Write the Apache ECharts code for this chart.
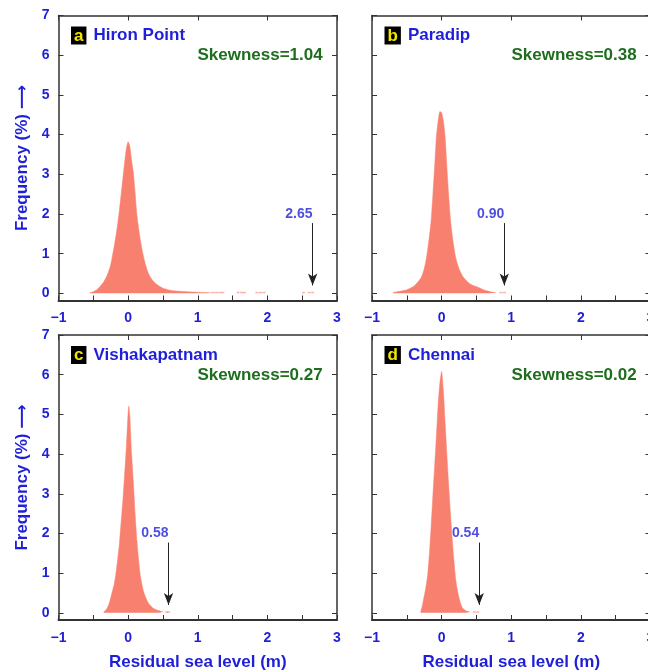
<!DOCTYPE html>
<html><head><meta charset="utf-8">
<script src="https://cdn.jsdelivr.net/npm/echarts@6/dist/echarts.min.js"></script>
<style>html,body{margin:0;padding:0;background:#fff}#c{width:648px;height:672px}</style>
</head><body><div id="c"></div><script>
// ---- data ----
const stationNames = ['Hiron Point', 'Paradip', 'Vishakapatnam', 'Chennai'];
const panelLetters = ['a', 'b', 'c', 'd'];
const skewness = ['1.04', '0.38', '0.27', '0.02'];
const maxResidual = [2.65, 0.90, 0.58, 0.54];
const xTickLabels = ['−1', '0', '1', '2', '3'];

const residualA = [-0.55,-0.5,-0.45,-0.4,-0.35,-0.3,-0.275,-0.25,-0.225,-0.2,-0.175,-0.15,-0.125,-0.1,-0.075,-0.05,-0.025,0,0.025,0.05,0.075,0.1,0.125,0.15,0.175,0.2,0.225,0.25,0.275,0.3,0.35,0.4,0.45,0.5,0.6,0.7,0.8,0.9,1.0,1.1,1.2];
const freqA     = [0.02,0.04,0.09,0.18,0.29,0.46,0.58,0.72,0.95,1.18,1.45,1.75,2.1,2.5,2.9,3.3,3.65,3.82,3.7,3.35,3.05,2.55,2.0,1.65,1.35,1.1,0.9,0.72,0.58,0.47,0.33,0.24,0.18,0.13,0.08,0.06,0.045,0.035,0.03,0.02,0.015];
const tailA     = [1.22,1.27,1.32,1.36,1.58,1.63,1.67,1.85,1.9,1.95,2.52,2.6,2.65];

const residualB = [-0.7,-0.6,-0.5,-0.45,-0.4,-0.35,-0.3,-0.275,-0.25,-0.225,-0.2,-0.175,-0.15,-0.125,-0.1,-0.075,-0.05,-0.025,0,0.025,0.05,0.075,0.1,0.125,0.15,0.175,0.2,0.225,0.25,0.275,0.3,0.35,0.4,0.45,0.5,0.6,0.7,0.78];
const freqB     = [0.02,0.05,0.09,0.13,0.18,0.27,0.38,0.48,0.62,0.82,1.1,1.45,1.85,2.5,3.2,3.95,4.35,4.58,4.55,4.35,3.95,3.2,2.5,1.9,1.5,1.18,0.92,0.75,0.62,0.52,0.44,0.33,0.25,0.2,0.17,0.09,0.04,0.02];
const tailB     = [0.85,0.9];

const residualC = [-0.35,-0.325,-0.3,-0.275,-0.25,-0.225,-0.2,-0.175,-0.15,-0.125,-0.1,-0.075,-0.05,-0.025,0,0.01,0.025,0.05,0.075,0.1,0.125,0.15,0.175,0.2,0.225,0.25,0.275,0.3,0.35,0.4,0.45,0.5];
const freqC     = [0.03,0.06,0.12,0.22,0.38,0.55,0.72,1.0,1.35,1.75,2.3,2.85,3.5,4.2,5.05,5.21,4.95,4.0,3.3,2.5,1.85,1.35,0.95,0.7,0.52,0.4,0.3,0.22,0.13,0.08,0.05,0.02];
const tailC     = [0.55,0.58];

const residualD = [-0.3,-0.275,-0.25,-0.225,-0.2,-0.175,-0.15,-0.125,-0.1,-0.075,-0.05,-0.025,0,0.025,0.05,0.075,0.1,0.125,0.15,0.175,0.2,0.225,0.25,0.275,0.3,0.35,0.41];
const freqD     = [0.03,0.2,0.42,0.65,0.96,1.5,2.2,2.97,3.7,4.45,5.25,5.8,6.08,5.6,4.8,4.0,3.25,2.55,1.92,1.35,0.88,0.58,0.38,0.22,0.12,0.05,0.02];
const tailD     = [0.47,0.52];

// ---- build ----
const residuals = [residualA, residualB, residualC, residualD];
const freqs = [freqA, freqB, freqC, freqD];
const tails = [tailA, tailB, tailC, tailD];

const BLUE = '#1f1fd8', GREEN = '#1e6e1e', FILL = '#f8806f', FRAME = '#333';
const FONT = '"Liberation Sans", Arial, Helvetica, "DejaVu Sans", sans-serif';

const gridPos = [
  {left: 58.5, top: 15.5}, {left: 372, top: 15.5},
  {left: 58.5, top: 335}, {left: 372, top: 335}
];
const grid = gridPos.map(p => ({left: p.left, top: p.top, width: 278.5, height: 285,
  containLabel: false, outerBoundsMode: 'none'}));

const xAxis = [], yAxis = [], series = [], title = [];
for (let i = 0; i < 4; i++) {
  const bottomRow = i >= 2, leftCol = i % 2 === 0;
  xAxis.push({
    gridIndex: i, type: 'value', min: -1, max: 3, interval: 1, position: 'bottom',
    axisLine: {show: true, onZero: false, lineStyle: {color: FRAME, width: 2}},
    axisTick: {show: true, inside: true, length: 5, lineStyle: {color: FRAME, width: 1}},
    minorTick: {show: true, splitNumber: 2, length: 5, lineStyle: {color: FRAME, width: 1}},
    splitLine: {show: false}, minorSplitLine: {show: false},
    axisLabel: {color: BLUE, fontWeight: 'bold', fontSize: 14, fontFamily: FONT, margin: 11,
      formatter: v => xTickLabels[Math.round(v) + 1]},
    name: bottomRow ? 'Residual sea level (m)' : '', nameLocation: 'middle', nameGap: 34,
    nameTextStyle: {color: BLUE, fontWeight: 'bold', fontSize: 17, fontFamily: FONT}
  });
  xAxis.push({
    gridIndex: i, type: 'value', min: -1, max: 3, interval: 1, position: 'top',
    axisLine: {show: true, onZero: false, lineStyle: {color: FRAME, width: 1.5}},
    axisTick: {show: true, inside: true, length: 5, lineStyle: {color: FRAME, width: 1}},
    axisLabel: {show: false}, splitLine: {show: false}
  });
  yAxis.push({
    gridIndex: i, type: 'value', min: -0.18, max: 7, splitNumber: 7, position: 'left',
    axisLine: {show: true, onZero: false, lineStyle: {color: FRAME, width: 1.5}},
    axisTick: {show: true, inside: true, length: 5, lineStyle: {color: FRAME, width: 1}},
    axisLabel: {show: leftCol, showMinLabel: false, color: BLUE, fontWeight: 'bold', fontSize: 14, fontFamily: FONT, margin: 9},
    splitLine: {show: false},
    name: leftCol ? 'Frequency (%) ⟶' : '', nameLocation: 'middle', nameGap: 28, nameRotate: 90,
    nameTextStyle: {color: BLUE, fontWeight: 'bold', fontSize: 17, fontFamily: FONT}
  });
  yAxis.push({
    gridIndex: i, type: 'value', min: -0.18, max: 7, splitNumber: 7, position: 'right',
    axisLine: {show: true, onZero: false, lineStyle: {color: FRAME, width: 1.5}},
    axisTick: {show: true, inside: true, length: 5, lineStyle: {color: FRAME, width: 1}},
    axisLabel: {show: false, showMinLabel: false}, splitLine: {show: false}
  });

  series.push({
    type: 'line', xAxisIndex: 2 * i, yAxisIndex: 2 * i,
    data: residuals[i].map((x, k) => [x, freqs[i][k]]),
    showSymbol: false, smooth: 0.2,
    lineStyle: {color: FILL, width: 0.5},
    areaStyle: {color: FILL, opacity: 1, origin: 'auto'},
    silent: true, z: 2
  });
  series.push({
    type: 'scatter', xAxisIndex: 2 * i, yAxisIndex: 2 * i,
    data: tails[i].map(x => [x, 0.02]),
    symbol: 'rect', symbolSize: [3, 1.5], itemStyle: {color: FILL, opacity: 0.6}, silent: true
  });
  series.push({
    type: 'scatter', xAxisIndex: 2 * i, yAxisIndex: 2 * i,
    data: [[maxResidual[i], 2.0]], symbolSize: 0.1, silent: true,
    label: {show: true, position: 'left', distance: 0, formatter: maxResidual[i].toFixed(2),
      color: BLUE, fontWeight: 'bold', fontSize: 14, fontFamily: FONT},
    markLine: {
      silent: true, symbol: ['none', 'arrow'], symbolSize: [7, 12],
      lineStyle: {color: '#222', width: 1, type: 'solid'}, label: {show: false},
      data: [[{coord: [maxResidual[i], 1.77]}, {coord: [maxResidual[i], 0.2]}]]
    }
  });

  const p = gridPos[i];
  title.push({
    left: p.left + 12.5, top: p.top + 11.5, padding: 0,
    text: '{box|' + panelLetters[i] + '}{name|' + stationNames[i] + '}',
    textStyle: {rich: {
      box: {backgroundColor: '#000', color: '#f2e600', fontWeight: 'bold', fontSize: 17, fontFamily: FONT, padding: [1, 3, 0, 3], lineHeight: 16},
      name: {color: BLUE, fontWeight: 'bold', fontSize: 17, fontFamily: FONT, padding: [0, 0, 0, 7]}
    }}
  });
  title.push({
    right: leftCol ? 325.3 : 11.3, top: p.top + 31, padding: 0,
    text: 'Skewness=' + skewness[i],
    textStyle: {color: GREEN, fontWeight: 'bold', fontSize: 17, fontFamily: FONT, lineHeight: 18}
  });
}

const chart = echarts.init(document.getElementById('c'), null, {renderer: 'canvas'});
chart.setOption({animation: false, backgroundColor: '#fff', grid, xAxis, yAxis, series, title});
</script></body></html>
